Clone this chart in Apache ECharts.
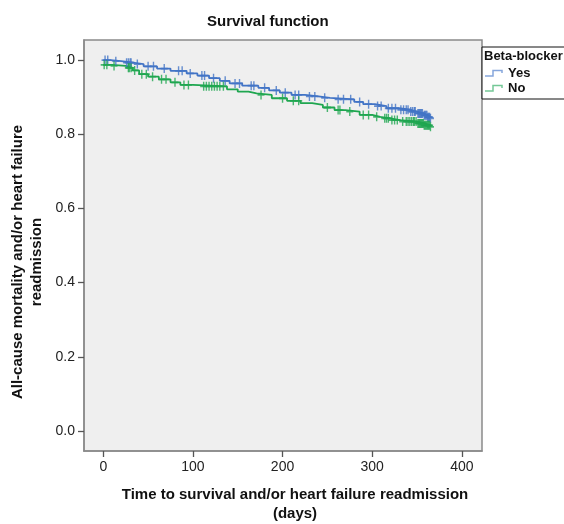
<!DOCTYPE html>
<html>
<head>
<meta charset="utf-8">
<script src="https://cdn.jsdelivr.net/npm/echarts@6/dist/echarts.min.js"></script>
<style>html,body{margin:0;padding:0;background:#fff}#c{width:564px;height:524px}</style>
</head>
<body>
<div id="c"></div>
<script>
// ---- data ----
var xTicks = [0, 100, 200, 300, 400];
var yTicks = [0.0, 0.2, 0.4, 0.6, 0.8, 1.0];

var yesTimes = [0, 8, 20, 33, 45, 60, 75, 93, 105, 118, 130, 141, 155, 173, 185, 197, 210, 225, 240, 253, 280, 290, 303, 316, 330, 342, 350, 357, 362, 365];
var yesSurv  = [1.000, 0.997, 0.993, 0.989, 0.983, 0.977, 0.971, 0.964, 0.958, 0.951, 0.944, 0.937, 0.931, 0.925, 0.918, 0.912, 0.906, 0.902, 0.898, 0.894, 0.887, 0.881, 0.876, 0.870, 0.866, 0.861, 0.856, 0.851, 0.846, 0.843];
var yesCensored = [2, 5, 14, 26, 28, 30, 31, 38, 50, 56, 68, 84, 88, 97, 110, 113, 123, 136, 147, 152, 165, 168, 180, 193, 203, 214, 218, 230, 236, 247, 262, 268, 276, 286, 296, 306, 310, 318, 322, 326, 332, 335, 338, 340, 343, 345, 347, 348, 351, 352, 353, 354, 355, 356, 358, 359, 360, 361, 362, 363, 364, 365];

var noTimes = [0, 10, 25, 33, 40, 50, 62, 75, 86, 100, 138, 150, 162, 171, 188, 205, 220, 233, 245, 258, 270, 286, 300, 309, 320, 331, 350, 358, 365];
var noSurv  = [0.987, 0.984, 0.979, 0.972, 0.962, 0.955, 0.948, 0.940, 0.933, 0.929, 0.921, 0.915, 0.910, 0.906, 0.897, 0.890, 0.884, 0.879, 0.872, 0.865, 0.861, 0.852, 0.847, 0.843, 0.838, 0.834, 0.829, 0.824, 0.820];
var noCensored = [1, 4, 12, 28, 29, 31, 35, 43, 48, 55, 65, 70, 80, 90, 95, 112, 115, 118, 121, 124, 127, 130, 134, 176, 200, 212, 218, 250, 262, 264, 275, 290, 296, 305, 314, 316, 318, 322, 325, 328, 334, 338, 340, 342, 344, 346, 347, 349, 351, 352, 353, 354, 355, 356, 357, 358, 359, 360, 361, 362, 363, 364, 365];

var groups = ['Yes', 'No'];
var colors = ['#4274c6', '#1fa650'];
var legendColors = ['#86a6dc', '#74c896'];

// ---- helpers ----
function pairs(t, v) { return t.map(function (x, i) { return [x, v[i]]; }); }
function stepAt(t, v, x) {
  var s = v[0];
  for (var i = 0; i < t.length; i++) { if (t[i] <= x) s = v[i]; }
  return s;
}
function censorPts(ct, t, v) { return ct.map(function (x) { return [x, stepAt(t, v, x)]; }); }

var FONT = 'Liberation Sans, Arial, Helvetica, sans-serif';
var plus = 'path://M4,0h2v4h4v2h-4v4h-2v-4h-4v-2h4z';

var chart = echarts.init(document.getElementById('c'));
chart.setOption({
  animation: false,
  title: {
    text: 'Survival function', left: 202, top: 9,
    textStyle: { fontFamily: FONT, fontSize: 15, fontWeight: 'bold', color: '#111' }
  },
  grid: {
    left: 84, top: 40, right: 82, bottom: 73,
    show: true, backgroundColor: '#efefef', borderColor: '#8a8a8a', borderWidth: 1.5
  },
  xAxis: {
    type: 'value', min: -21.5, max: 422.5,
    axisLine: { show: true, onZero: false, lineStyle: { color: '#8a8a8a', width: 1.5 } },
    axisTick: { show: true, inside: false, length: 6, customValues: xTicks, lineStyle: { color: '#555', width: 1.3 } },
    axisLabel: { customValues: xTicks, margin: 9, fontFamily: FONT, fontSize: 14, color: '#222' },
    splitLine: { show: false }
  },
  yAxis: {
    type: 'value', min: -0.054, max: 1.054,
    axisLine: { show: true, onZero: false, lineStyle: { color: '#8a8a8a', width: 1.5 } },
    axisTick: { show: true, inside: false, length: 6, customValues: yTicks, lineStyle: { color: '#555', width: 1.3 } },
    axisLabel: { customValues: yTicks, margin: 9, fontFamily: FONT, fontSize: 14, color: '#222',
      formatter: function (v) { return v.toFixed(1); } },
    splitLine: { show: false }
  },
  series: [
    { name: groups[0], type: 'line', step: 'end', showSymbol: false, data: pairs(yesTimes, yesSurv),
      lineStyle: { color: colors[0], width: 1.8 }, z: 3 },
    { name: groups[1], type: 'line', step: 'end', showSymbol: false, data: pairs(noTimes, noSurv),
      lineStyle: { color: colors[1], width: 1.8 }, z: 3 },
    { name: groups[0] + ' censored', type: 'scatter', symbol: plus, symbolSize: [7, 9],
      data: censorPts(yesCensored, yesTimes, yesSurv), itemStyle: { color: colors[0] }, z: 4 },
    { name: groups[1] + ' censored', type: 'scatter', symbol: plus, symbolSize: [7, 9],
      data: censorPts(noCensored, noTimes, noSurv), itemStyle: { color: colors[1] }, z: 4 }
  ],
  graphic: [
    // y-axis title
    { type: 'text', x: 27, y: 262, rotation: Math.PI / 2,
      style: { text: 'All-cause mortality and/or heart failure\nreadmission', align: 'center', verticalAlign: 'middle',
        fontFamily: FONT, fontSize: 15, fontWeight: 'bold', lineHeight: 19, fill: '#111' } },
    // x-axis title
    { type: 'text', x: 295, y: 504,
      style: { text: 'Time to survival and/or heart failure readmission\n(days)', align: 'center', verticalAlign: 'middle',
        fontFamily: FONT, fontSize: 15, fontWeight: 'bold', lineHeight: 19, fill: '#111' } },
    // legend box
    { type: 'rect', shape: { x: 482, y: 47, width: 90, height: 52 },
      style: { fill: '#fff', stroke: '#111', lineWidth: 1 }, z: 10 },
    { type: 'text', x: 484, y: 56, z: 11,
      style: { text: 'Beta-blocker', verticalAlign: 'middle', fontFamily: FONT, fontSize: 13, fontWeight: 'bold', fill: '#111' } },
    { type: 'polyline', z: 11, shape: { points: [[485, 76], [493, 76], [493, 70.5], [502, 70.5], [502, 73]] },
      style: { stroke: legendColors[0], lineWidth: 1.5, fill: null } },
    { type: 'text', x: 508, y: 73, z: 11,
      style: { text: groups[0], verticalAlign: 'middle', fontFamily: FONT, fontSize: 13, fontWeight: 'bold', fill: '#111' } },
    { type: 'polyline', z: 11, shape: { points: [[485, 91], [493, 91], [493, 85.5], [502, 85.5], [502, 88]] },
      style: { stroke: legendColors[1], lineWidth: 1.5, fill: null } },
    { type: 'text', x: 508, y: 88, z: 11,
      style: { text: groups[1], verticalAlign: 'middle', fontFamily: FONT, fontSize: 13, fontWeight: 'bold', fill: '#111' } }
  ]
});
</script>
</body>
</html>
